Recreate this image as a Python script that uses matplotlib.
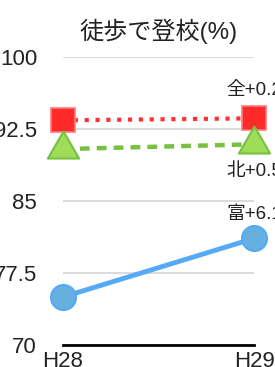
import matplotlib
matplotlib.use("Agg")
import matplotlib.pyplot as plt

plt.rcParams['font.family'] = ['Liberation Sans', 'Noto Sans CJK JP', 'DejaVu Sans']

years = ["H28", "H29"]
zen = [93.4, 93.6]     # 全
kita = [90.4, 90.9]    # 北
tomi = [75.0, 81.1]    # 富
labels = ["全+0.2", "北+0.5", "富+6.1"]
yticks = [70, 77.5, 85, 92.5, 100]
ytick_labels = ["70", "77.5", "85", "92.5", "100"]

# triangle centred on its circumcentre (like the original chart)
tri = [(0, 1), (-0.866, -0.5), (0.866, -0.5), (0, 1)]

fig = plt.figure(figsize=(2.75, 3.67), dpi=100)
ax = fig.add_axes([0.229, 0.060, 0.695, 0.785])

x = range(len(years))

ax.plot(x, zen, color="#ff3030", lw=3, linestyle=(0, (1, 1.6)),
        marker="s", markersize=17.5, markerfacecolor="#ff2a2a",
        markeredgecolor="#ff7a7a", markeredgewidth=1.2, clip_on=False, zorder=3)
ax.plot(x, kita, color="#78c040", lw=3.2, linestyle=(0, (2.2, 1.6)),
        marker=tri, markersize=26, markerfacecolor="#9edc5a",
        markeredgecolor="#78c040", markeredgewidth=1.5, clip_on=False, zorder=4)
ax.plot(x, tomi, color="#55aaf5", lw=3.5,
        marker="o", markersize=18, markerfacecolor="#66b0e0",
        markeredgecolor="#55aaf5", markeredgewidth=1.5, clip_on=False, zorder=3)

ax.annotate(labels[0], (1, zen[1]), xytext=(0, 20), textcoords="offset points",
            ha="center", va="center", fontsize=13.5, color="#222222", annotation_clip=False)
ax.annotate(labels[1], (1, kita[1]), xytext=(0, -19.5), textcoords="offset points",
            ha="center", va="center", fontsize=13.5, color="#222222", annotation_clip=False)
ax.annotate(labels[2], (1, tomi[1]), xytext=(0, 17.5), textcoords="offset points",
            ha="center", va="center", fontsize=13.5, color="#222222", annotation_clip=False)

ax.set_xlim(0, 1)
ax.set_ylim(70, 100)
ax.set_xticks(list(x))
ax.set_xticklabels(years)
ax.set_yticks(yticks)
ax.set_yticklabels(ytick_labels)
ax.tick_params(axis="both", length=0, labelsize=16, colors="#222222")
ax.tick_params(axis="y", pad=18.7)
ax.tick_params(axis="x", pad=4)
for lab in ax.get_yticklabels():
    lab.set_horizontalalignment("right")

ax.grid(axis="y", color="#d4d4d4", lw=1.2)
ax.set_axisbelow(True)
for s in ["top", "right", "left"]:
    ax.spines[s].set_visible(False)
ax.spines["bottom"].set_color("black")
ax.spines["bottom"].set_linewidth(2)

ax.set_title("徒歩で登校(%)", fontsize=17.4, color="#222222", pad=13)

fig.savefig("out.png", dpi=100)
